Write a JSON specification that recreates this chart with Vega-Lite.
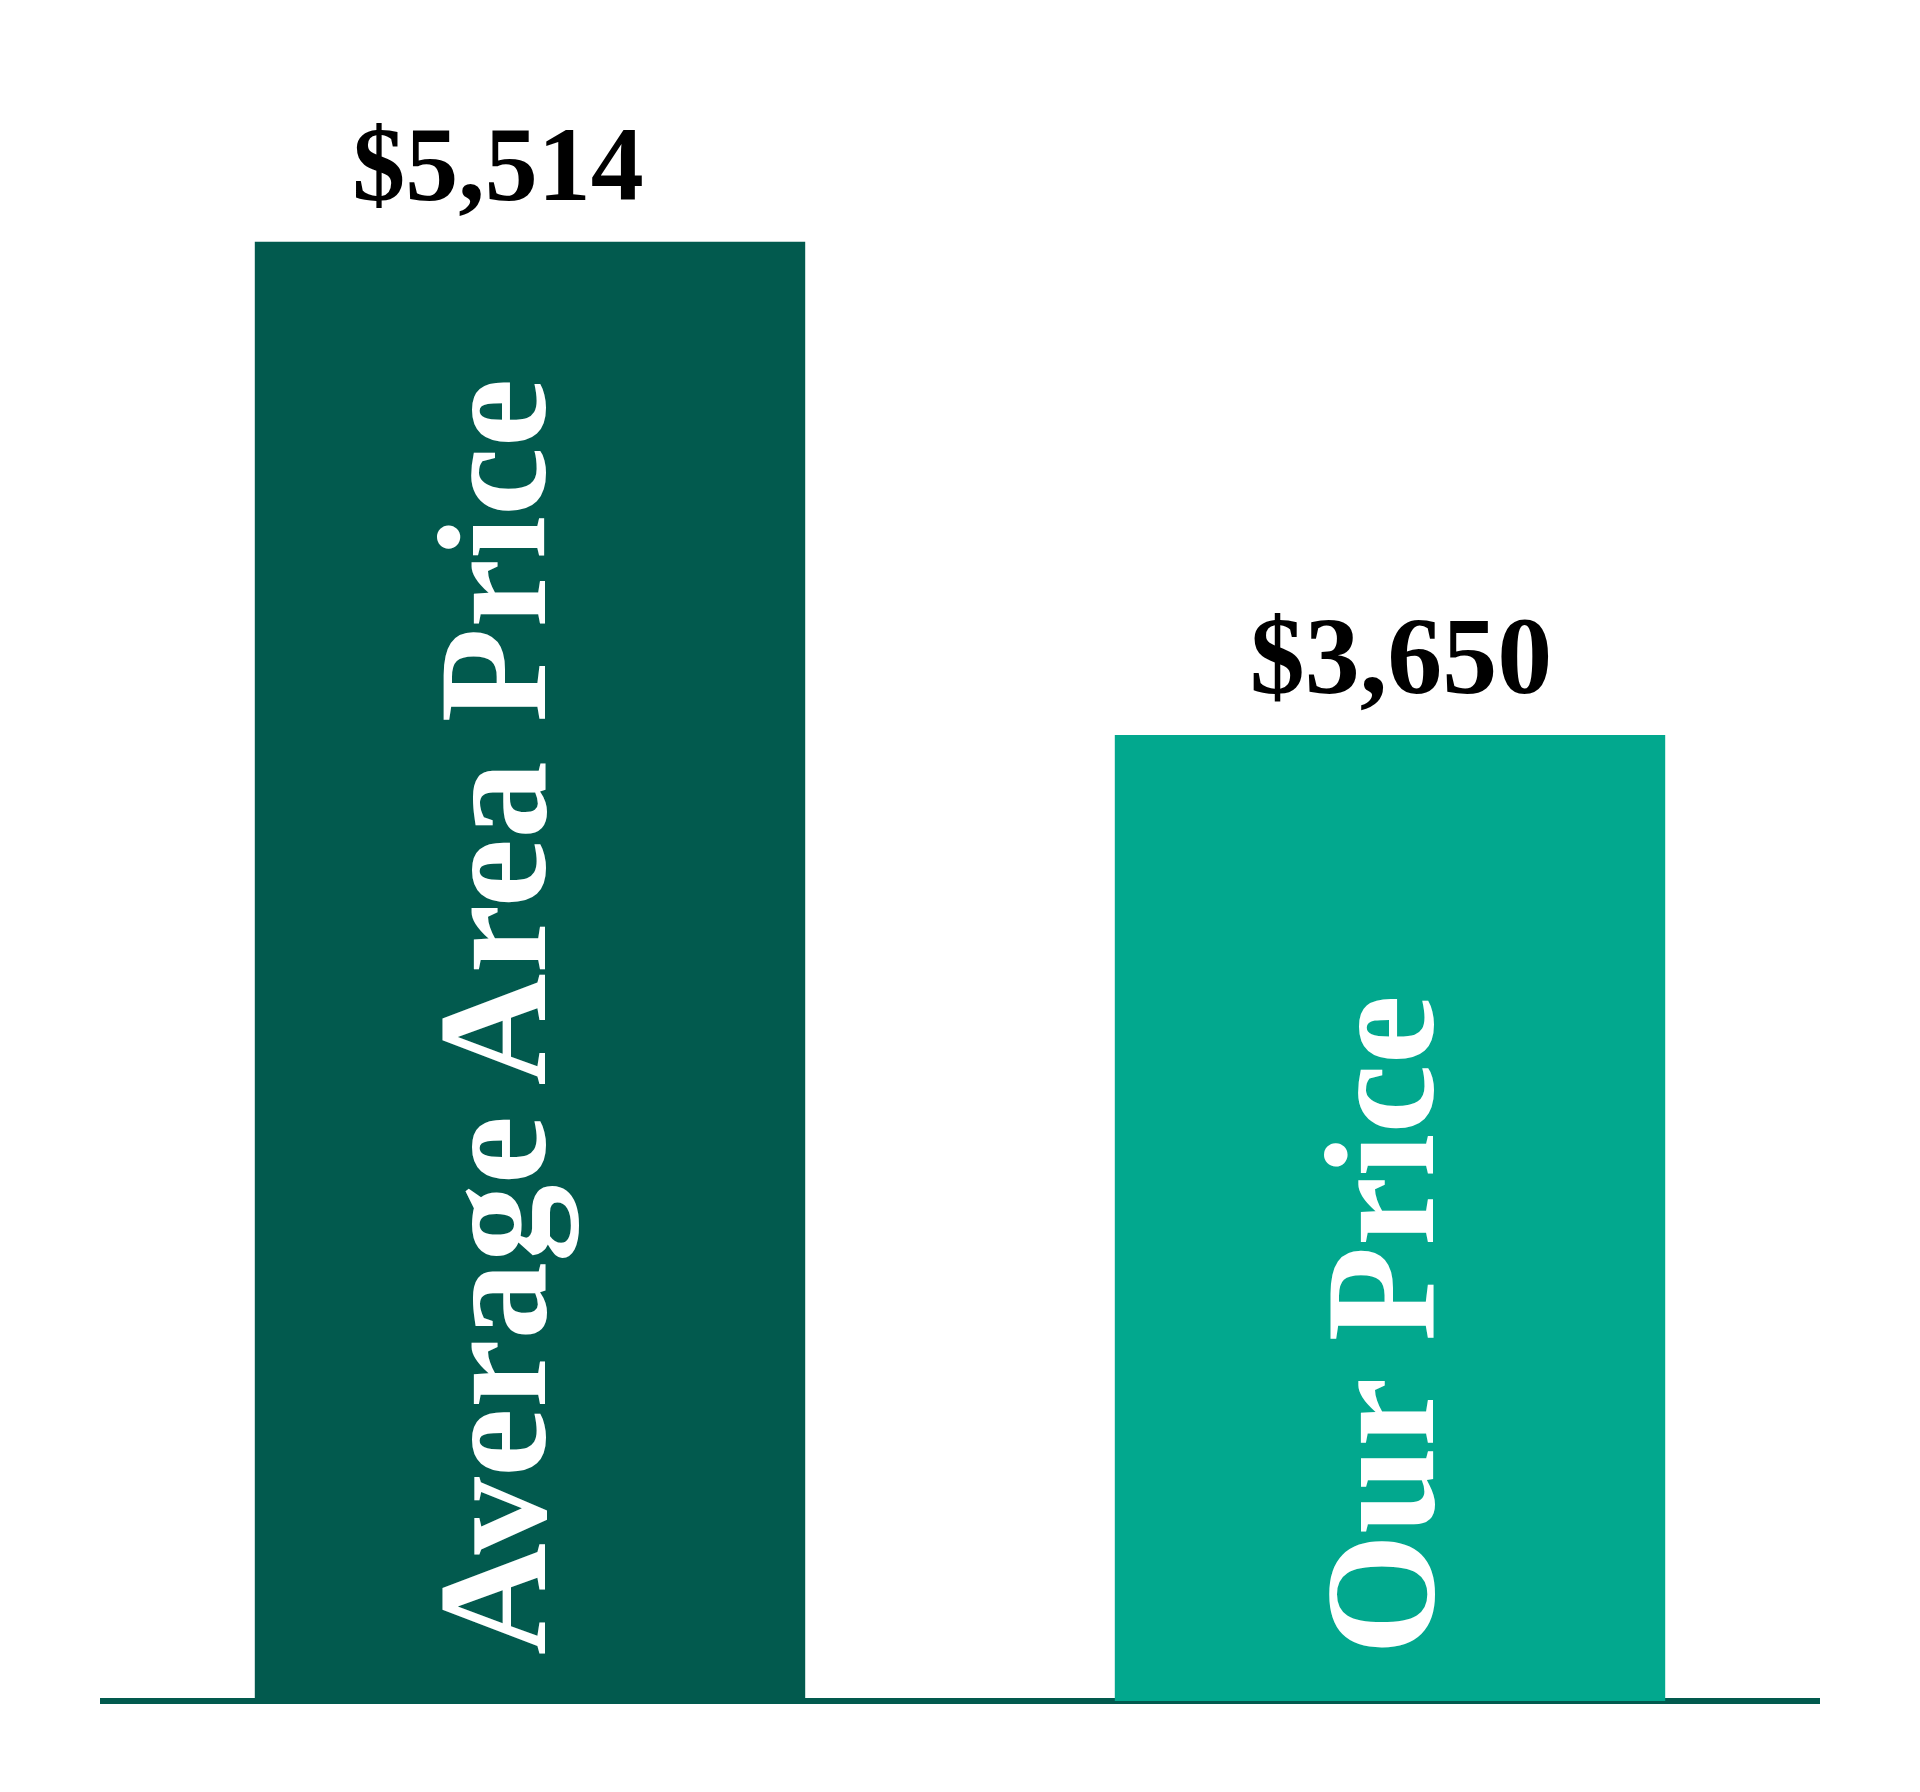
{
  "$schema": "https://vega.github.io/schema/vega-lite/v6.json",
  "width": 1720,
  "height": 1588,
  "autosize": "none",
  "padding": {"left": 100, "top": 113, "right": 100, "bottom": 91},
  "background": "white",
  "config": {"view": {"stroke": null}},
  "data": {
    "values": [
      {"category": "Average Area Price", "price": 5514, "label": "$5,514"},
      {"category": "Our Price", "price": 3650, "label": "$3,650"}
    ]
  },
  "layer": [
    {
      "mark": {"type": "rule", "color": "#025a4e", "strokeWidth": 6},
      "encoding": {
        "y": {"datum": 0, "type": "quantitative", "scale": {"domain": [0, 6000]}, "axis": null}
      }
    },
    {
      "mark": {"type": "bar"},
      "encoding": {
        "x": {"field": "category", "type": "nominal", "sort": null, "scale": {"paddingInner": 0.36, "paddingOuter": 0.18}, "axis": null},
        "y": {"field": "price", "type": "quantitative", "scale": {"domain": [0, 6000]}, "axis": null},
        "color": {"field": "category", "type": "nominal", "sort": null, "scale": {"range": ["#025a4e", "#02a88e"]}, "legend": null}
      }
    },
    {
      "transform": [{"filter": "datum.category === 'Average Area Price'"}],
      "mark": {"type": "text", "font": "Liberation Serif", "fontWeight": "bold", "fontSize": 106, "color": "#000000", "baseline": "alphabetic", "align": "center", "dy": -42, "dx": -32},
      "encoding": {
        "x": {"field": "category", "type": "nominal", "sort": null, "axis": null},
        "y": {"field": "price", "type": "quantitative", "axis": null},
        "text": {"field": "label"}
      }
    },
    {
      "transform": [{"filter": "datum.category === 'Our Price'"}],
      "mark": {"type": "text", "font": "Liberation Serif", "fontWeight": "bold", "fontSize": 110, "color": "#000000", "baseline": "alphabetic", "align": "center", "dy": -42, "dx": 11},
      "encoding": {
        "x": {"field": "category", "type": "nominal", "sort": null, "axis": null},
        "y": {"field": "price", "type": "quantitative", "axis": null},
        "text": {"field": "label"}
      }
    },
    {
      "transform": [{"filter": "datum.category === 'Average Area Price'"}],
      "mark": {"type": "text", "font": "Liberation Serif", "fontWeight": "bold", "fontSize": 155, "color": "#ffffff", "angle": 270, "baseline": "alphabetic", "align": "left", "dx": 46, "dy": 15},
      "encoding": {
        "x": {"field": "category", "type": "nominal", "sort": null, "axis": null},
        "y": {"datum": 0, "type": "quantitative"},
        "text": {"field": "category"}
      }
    },
    {
      "transform": [{"filter": "datum.category === 'Our Price'"}],
      "mark": {"type": "text", "font": "Liberation Serif", "fontWeight": "bold", "fontSize": 156, "color": "#ffffff", "angle": 270, "baseline": "alphabetic", "align": "left", "dx": 46, "dy": 43},
      "encoding": {
        "x": {"field": "category", "type": "nominal", "sort": null, "axis": null},
        "y": {"datum": 0, "type": "quantitative"},
        "text": {"field": "category"}
      }
    }
  ]
}
